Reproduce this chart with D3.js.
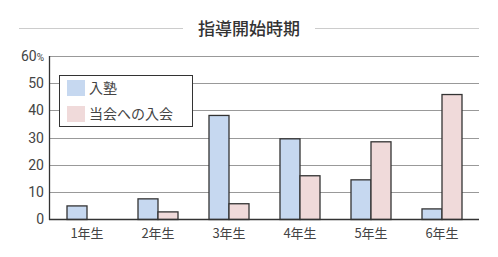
<!DOCTYPE html>
<html><head><meta charset="utf-8">
<script src="https://cdn.jsdelivr.net/npm/d3@7"></script>
<style>body{margin:0;background:#fff;}svg{display:block;font-family:"Noto Sans CJK JP","Noto Sans",sans-serif;}</style>
</head><body>
<svg id="c" width="498" height="257"></svg>
<script>
const title = "指導開始時期";
const categories = ["1年生","2年生","3年生","4年生","5年生","6年生"];
const seriesNames = ["入塾","当会への入会"];
const juku = [5.0, 7.6, 38.3, 29.7, 14.6, 3.9];
const nyukai = [0, 2.8, 5.8, 16.1, 28.6, 46.0];
const yTicks = [0,10,20,30,40,50,60];
const colors = ["#c6d8f0","#f0dada"];

(function(){
const svg = d3.select("#c");
const mLeft = 49, mRight = 479, mTop = 56, mBottom = 219;
const y = d3.scaleLinear().domain([0,60]).range([mBottom, mTop]);
const x = d3.scaleBand().domain(categories).range([51, 477]).paddingInner(0).paddingOuter(0);
const barW = 20;

// title
svg.append("line").attr("x1",19).attr("x2",183).attr("y1",28.5).attr("y2",28.5).attr("stroke","#ccc");
svg.append("line").attr("x1",315).attr("x2",479).attr("y1",28.5).attr("y2",28.5).attr("stroke","#ccc");
svg.append("text").attr("x",249).attr("y",35).attr("text-anchor","middle")
  .attr("font-size",17).attr("font-weight","500").attr("fill","#333").text(title);

// grid
svg.append("g").selectAll("line").data(yTicks.filter(d=>d>0)).join("line")
  .attr("x1",mLeft).attr("x2",mRight).attr("y1",d=>Math.round(y(d))+0.5).attr("y2",d=>Math.round(y(d))+0.5)
  .attr("stroke","#999").attr("stroke-width",1);

// y labels
const yl = svg.append("g").selectAll("text").data(yTicks).join("text")
  .attr("x",44).attr("y",d=>y(d)+5).attr("text-anchor","end")
  .attr("font-size",14).attr("fill","#444").attr("font-family","Roboto, 'Liberation Sans', sans-serif");
yl.each(function(d){
  const t = d3.select(this);
  t.append("tspan").text(d);
  if(d===60) t.append("tspan").attr("font-size",10).text("%");
});

// bars
const data = categories.map((c,i)=>({c, vals:[juku[i], nyukai[i]]}));
const g = svg.append("g");
data.forEach(d=>{
  const cx = x(d.c) + x.bandwidth()/2;
  d.vals.forEach((v,j)=>{
    if(v<=0) return;
    g.append("rect").attr("x", cx - barW + j*barW + 0.5).attr("y", y(v)+0.5)
      .attr("width", barW).attr("height", y(0)-y(v))
      .attr("fill", colors[j]).attr("stroke","#333").attr("stroke-width",1.3);
  });
});

// axes lines
svg.append("line").attr("x1",mLeft+0.5).attr("x2",mLeft+0.5).attr("y1",mTop).attr("y2",mBottom+1).attr("stroke","#333").attr("stroke-width",1.3);
svg.append("line").attr("x1",mLeft).attr("x2",mRight).attr("y1",mBottom+0.5).attr("y2",mBottom+0.5).attr("stroke","#333").attr("stroke-width",1.3);

// x labels
svg.append("g").selectAll("text").data(categories).join("text")
  .attr("x",d=>x(d)+x.bandwidth()/2+0.5).attr("y",238).attr("text-anchor","middle")
  .attr("font-size",13).attr("fill","#444").text(d=>d);

// legend
const lg = svg.append("g");
lg.append("rect").attr("x",59.5).attr("y",75.5).attr("width",133).attr("height",51)
  .attr("fill","#fff").attr("stroke","#333").attr("stroke-width",1);
seriesNames.forEach((n,i)=>{
  lg.append("rect").attr("x",67).attr("y",80+i*26).attr("width",18).attr("height",16).attr("fill",colors[i]);
  lg.append("text").attr("x",89).attr("y",93+i*26).attr("font-size",14).attr("fill","#444").text(n);
});
})();
</script>
</body></html>
